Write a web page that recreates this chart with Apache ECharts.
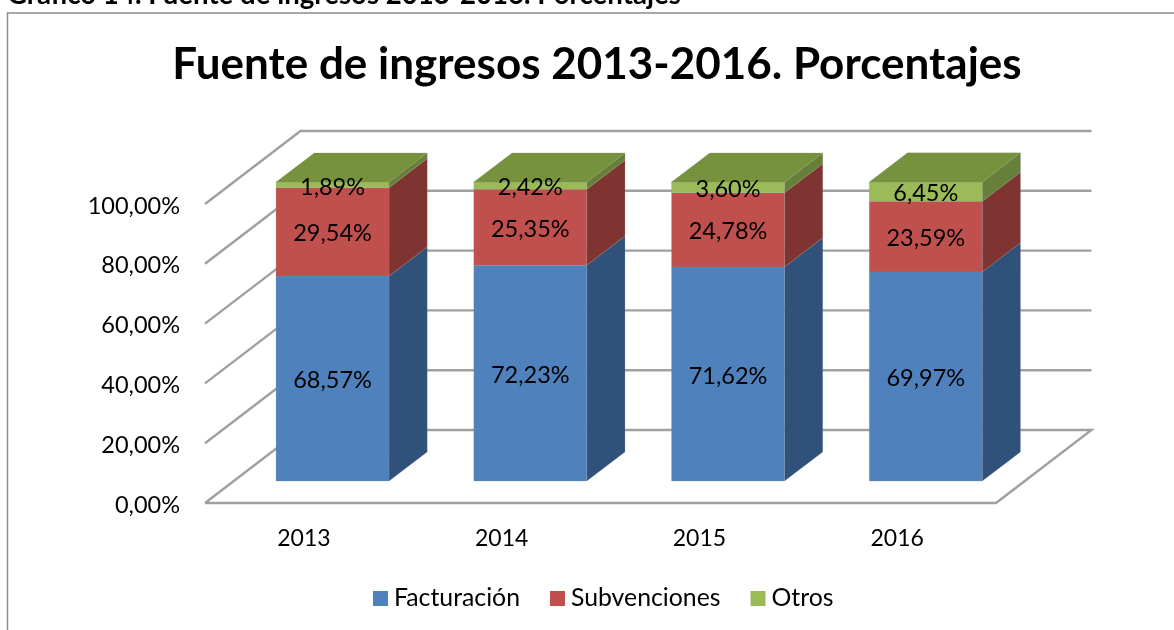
<!DOCTYPE html>
<html><head><meta charset="utf-8">
<style>html,body{margin:0;padding:0;background:#fff}#c{width:1174px;height:630px}</style>
<script src="https://cdn.jsdelivr.net/npm/echarts@6/dist/echarts.min.js"></script>
</head><body><div id="c"></div>
<script>
const categories = ['2013','2014','2015','2016'];
const facturacion = [68.57,72.23,71.62,69.97];
const subvenciones = [29.54,25.35,24.78,23.59];
const otros = [1.89,2.42,3.60,6.45];
const yTicks = [0,20,40,60,80,100];
const captionText = 'Gráfico 14. Fuente de ingresos 2013-2016. Porcentajes';
const titleText = 'Fuente de ingresos 2013-2016. Porcentajes';

const FONT = 'Lato, Carlito, sans-serif';
const DX = 95.5, DY = -73;           // full floor depth vector
const F0 = 0.30, F1 = 0.70;          // bar front/back depth fractions
const BAR = 113;
const comma = v => v.toFixed(2).replace('.', ',') + '%';

function stackSeries(name, values, below, front, side, top, isTop) {
  const data = categories.map((c, i) => {
    const base = below.reduce((s, arr) => s + arr[i], 0);
    return [i, base, base + values[i]];
  });
  return {
    type: 'custom', name, z: 3, coordinateSystem: 'cartesian2d',
    itemStyle: { color: front },
    encode: { x: 0, y: [1, 2] },
    data,
    renderItem(params, api) {
      const lo = api.coord([api.value(0), api.value(1)]);
      const hi = api.coord([api.value(0), api.value(2)]);
      const fx = DX * F0, fy = DY * F0;
      const bx = DX * (F1 - F0), by = DY * (F1 - F0);
      const x0 = lo[0] + fx - BAR / 2, x1 = x0 + BAR;
      const y0 = lo[1] + fy, y1 = hi[1] + fy;
      const edge = { stroke: 'rgba(150,150,150,0.35)', lineWidth: 0.6 };
      const kids = [
        { type: 'polygon', shape: { points: [[x1, y0], [x1 + bx, y0 + by], [x1 + bx, y1 + by], [x1, y1]] },
          style: { fill: side, ...edge } },
        { type: 'polygon', shape: { points: [[x0, y0], [x1, y0], [x1, y1], [x0, y1]] },
          style: { fill: front, ...edge } }
      ];
      if (isTop) kids.push({ type: 'polygon', shape: { points: [[x0, y1], [x1, y1], [x1 + bx, y1 + by], [x0 + bx, y1 + by]] },
          style: { fill: top, ...edge } });
      kids.push({ type: 'text', z2: 20, style: {
        x: (x0 + x1) / 2, y: (y0 + y1) / 2 + 2, text: comma(api.value(2) - api.value(1)),
        align: 'center', verticalAlign: 'middle', fill: '#000', font: '23.5px ' + FONT } });
      return { type: 'group', children: kids };
    }
  };
}

const gridSeries = {
  type: 'custom', silent: true, z: 1, coordinateSystem: 'cartesian2d',
  data: yTicks.map(v => [0, v]),
  legendHoverLink: false,
  renderItem(params, api) {
    const v = api.value(1);
    const y = api.coord([0, v])[1];
    const xa = params.coordSys.x, xb = xa + params.coordSys.width;
    const style = { stroke: '#a0a0a0', lineWidth: 2.4, fill: 'none', lineJoin: 'miter' };
    const pts = [[xa, y], [xa + DX, y + DY], [xb + DX, y + DY]];
    if (v === 0) pts.push([xb, y], [xa, y]);
    return { type: 'polyline', shape: { points: pts }, style };
  }
};

const chart = echarts.init(document.getElementById('c'), null, { renderer: 'canvas' });
chart.setOption({
  animation: false,
  backgroundColor: '#fff',
  title: { text: titleText, left: 592, top: 38, textAlign: 'center',
    textStyle: { fontFamily: FONT, fontSize: 44, fontWeight: 'bold', color: '#000' } },
  grid: { left: 205, top: 204, width: 791, height: 299, containLabel: false },
  legend: { left: 368, top: 581, icon: 'rect', itemWidth: 15, itemHeight: 15, itemGap: 30,
    data: ['Facturación', 'Subvenciones', 'Otros'], selectedMode: false,
    textStyle: { fontFamily: FONT, fontSize: 24.8, color: '#000', padding: [0, 0, 0, 1] } },
  xAxis: { type: 'category', data: categories, boundaryGap: true,
    axisLine: { show: false }, axisTick: { show: false }, splitLine: { show: false },
    axisLabel: { color: '#000', fontFamily: FONT, fontSize: 23, margin: 24 } },
  yAxis: { type: 'value', min: 0, max: 100, interval: 20,
    axisLine: { show: false }, axisTick: { show: false }, splitLine: { show: false },
    axisLabel: { color: '#000', fontFamily: FONT, fontSize: 23.5, margin: 25, verticalAlign: 'top', lineHeight: 4, formatter: v => comma(v) } },
  graphic: [
    { type: 'polyline', silent: true, shape: { points: [[7.5, 630], [7.5, 13], [1174, 13]] },
      style: { stroke: '#8c8c8c', lineWidth: 1.5, fill: 'none' } },
    { type: 'text', silent: true, left: 7, top: -19, style: { text: captionText,
      font: 'bold 27.6px ' + FONT, fill: '#000' } }
  ],
  series: [
    gridSeries,
    stackSeries('Facturación', facturacion, [], '#4F81BD', '#30527A', '#3f6a9c', false),
    stackSeries('Subvenciones', subvenciones, [facturacion], '#C0504D', '#7F3432', '#9a3f3d', false),
    stackSeries('Otros', otros, [facturacion, subvenciones], '#9BBB59', '#668039', '#76923C', true)
  ]
});
</script></body></html>
